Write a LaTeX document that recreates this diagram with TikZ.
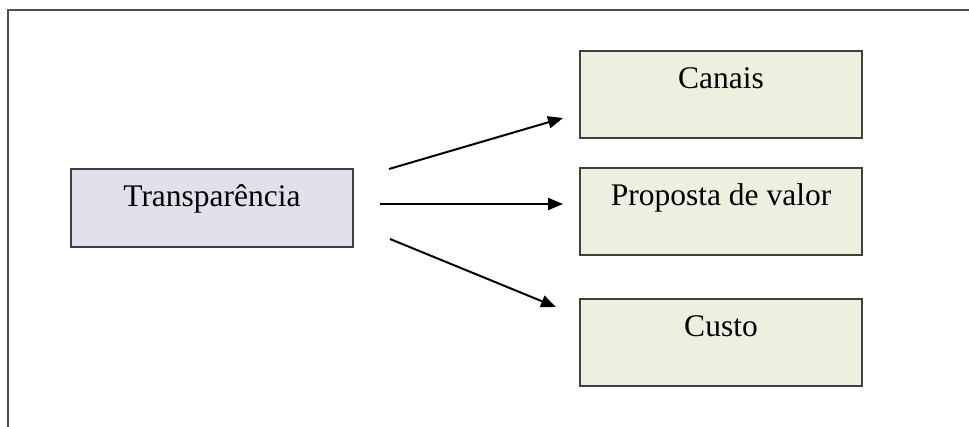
\documentclass[tikz,border=0pt]{standalone}
\usepackage{fontspec}
\setmainfont{Liberation Serif}
\usetikzlibrary{arrows.meta}
\definecolor{edgegray}{HTML}{404040}
\definecolor{framegray}{HTML}{505050}
\definecolor{lavender}{HTML}{E4DFEC}
\definecolor{palegreen}{HTML}{EBF1DE}
\tikzset{
  box/.style={draw=edgegray, line width=2pt, rectangle, inner sep=0pt,
              minimum width=282pt},
  srcbox/.style={box, fill=lavender, minimum height=78pt},
  dstbox/.style={box, fill=palegreen, minimum height=87pt},
  caption/.style={anchor=base, font=\fontsize{31.5}{36}\selectfont, inner sep=0pt},
  link/.style={line width=2pt, -{Triangle[length=15pt,width=12pt]}}
}
\begin{document}
\begin{tikzpicture}[x=1pt,y=-1pt]
  \useasboundingbox (0,0) rectangle (969,427);
  % open frame: top and left edges only
  \coordinate (ftop) at (969,10);
  \coordinate (fcorner) at (8,10);
  \coordinate (fbot) at (8,427);
  \draw[framegray, line width=2pt] (ftop) -- (fcorner) -- (fbot);

  % boxes
  \node[srcbox] (transp) at (211.5,208) {};
  \node[dstbox] (canais) at (721,94.5) {};
  \node[dstbox] (proposta) at (721,212) {};
  \node[dstbox] (custo) at (721,342.5) {};

  % captions
  \node[caption] (ttransp) at (212,207) {Transparência};
  \node[caption] (tcanais) at (721,89) {Canais};
  \node[caption] (tproposta) at (721,206) {Proposta de valor};
  \node[caption] (tcusto) at (721,337) {Custo};

  % arrow end points
  \coordinate (a1s) at (389,169);
  \coordinate (a1e) at (563,118);
  \coordinate (a2s) at (380,204);
  \coordinate (a2e) at (563,204);
  \coordinate (a3s) at (390,239);
  \coordinate (a3e) at (556,307);
  \draw[link] (a1s) -- (a1e);
  \draw[link] (a2s) -- (a2e);
  \draw[link] (a3s) -- (a3e);
\end{tikzpicture}
\end{document}
